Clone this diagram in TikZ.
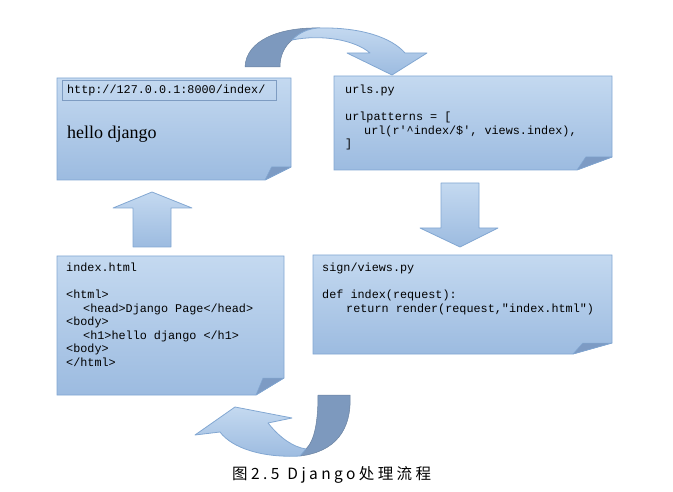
\documentclass[tikz,border=0pt]{standalone}
\usepackage{fontspec}
\setmainfont{Liberation Serif}
\setmonofont{Liberation Mono}
\newfontfamily\cjk{Noto Sans CJK SC}
\usetikzlibrary{positioning}

\definecolor{papertop}{HTML}{C4D9F0}
\definecolor{paperbot}{HTML}{9CBBE0}
\definecolor{paperedge}{HTML}{82A7D2}
\definecolor{flapcol}{HTML}{7D9BC4}
\definecolor{backcol}{HTML}{7D99BE}
\definecolor{urledge}{HTML}{7E9CC2}

\tikzset{
  paper/.style={top color=papertop, bottom color=paperbot, draw=paperedge, line width=0.8pt},
  flap/.style={fill=flapcol, draw=paperedge, line width=0.5pt, line join=round},
  blockarrow/.style={top color=papertop, bottom color=paperbot, draw=paperedge, line width=0.8pt, line join=round},
  ribbonback/.style={fill=backcol, draw=backcol!85!black, line width=0.5pt, line join=round},
  codetext/.style={anchor=north west, inner sep=0pt, align=left,
    font=\fontsize{11.8}{13.5}\selectfont\ttfamily},
  urlbar/.style={draw=urledge, line width=1.2pt, anchor=north west, inner xsep=4.5pt,
    text width=205pt, minimum height=20pt, align=left,
    font=\fontsize{11.8}{13.5}\selectfont\ttfamily},
  pics/notepaper/.style n args={4}{code={
    \path[paper] (0,0) -- (#1,0) -- (#1,#2-#4) -- (#1-#3,#2) -- (0,#2) -- cycle;
    \path[flap] (#1-#3,#2) .. controls (#1-#3*0.85,#2-#4*0.5) .. (#1-#3*0.75,#2-#4)
      -- (#1,#2-#4) -- cycle;
  }}
}

\begin{document}
\begin{tikzpicture}[x=1pt, y=-1pt]
  \useasboundingbox (0,0) rectangle (673,492);

  % Pages
  \pic at (57,78)   {notepaper={234}{102}{26}{13}};
  \pic at (334,76)  {notepaper={278}{94}{35}{13}};
  \pic at (57,256)  {notepaper={227}{139}{28}{17}};
  \pic at (313,255) {notepaper={299}{99}{39}{11}};

  % Browser page
  \node[urlbar] (url) at (62,80) {http://127.0.0.1:8000/index/};
  \node[anchor=west, inner sep=0pt, font=\fontsize{18}{20}\selectfont] (hello) at (67,134) {hello django};

  % urls.py
  \node[codetext] (urls) at (345,85) {urls.py\\[13.5pt]
    urlpatterns = [\\
    \hspace*{19pt}url(r'\textasciicircum index/\$', views.index),\\
    ]};

  % views.py
  \node[codetext] (views) at (322,263) {sign/views.py\\[13.5pt]
    def index(request):\\
    \hspace*{24pt}return render(request,"index.html")};

  % index.html
  \node[codetext] (html) at (66,263) {index.html\\[13.5pt]
    <html>\\
    \hspace*{17pt}<head>Django Page</head>\\
    <body>\\
    \hspace*{17pt}<h1>hello django </h1>\\
    <body>\\
    </html>};

  % Straight arrows
  \draw[blockarrow] (152,192) -- (192,208) -- (171,208) -- (171,247) -- (133,247)
    -- (133,208) -- (113,208) -- cycle;
  \draw[blockarrow] (441,183) -- (479,183) -- (479,228) -- (498,228) -- (460,247)
    -- (420,228) -- (441,228) -- cycle;

  % Curved arrow, top
  \draw[ribbonback] (245,67) .. controls (246,40) and (280,27) .. (320,28) -- (292,40)
    .. controls (284,47) and (280,56) .. (280,67) -- cycle;
  \draw[blockarrow] (318,28) .. controls (362,27) and (392,38) .. (405,53) -- (427,53)
    -- (392,75) -- (347,53) -- (370,53) .. controls (355,40) and (322,34) .. (292,40)
    .. controls (300,32) and (308,29) .. (318,28) -- cycle;

  % Curved arrow, bottom
  \draw[ribbonback] (350,395) .. controls (352,430) and (335,452) .. (300,456) -- (306,449)
    .. controls (315,440) and (318,420) .. (318,395) -- cycle;
  \draw[blockarrow] (300,456) .. controls (262,458) and (232,448) .. (220,432) -- (195,435)
    -- (235,407) -- (292,418) -- (268,423) .. controls (280,438) and (293,447) .. (306,449)
    -- cycle;

  % Caption
  \node[anchor=west, inner sep=0pt, text=black,
    font=\cjk\fontsize{15.5}{17}\selectfont\addfontfeature{LetterSpace=22}] (caption)
    at (232,475) {图2.5\hspace{8pt}Django处理流程};
\end{tikzpicture}
\end{document}
